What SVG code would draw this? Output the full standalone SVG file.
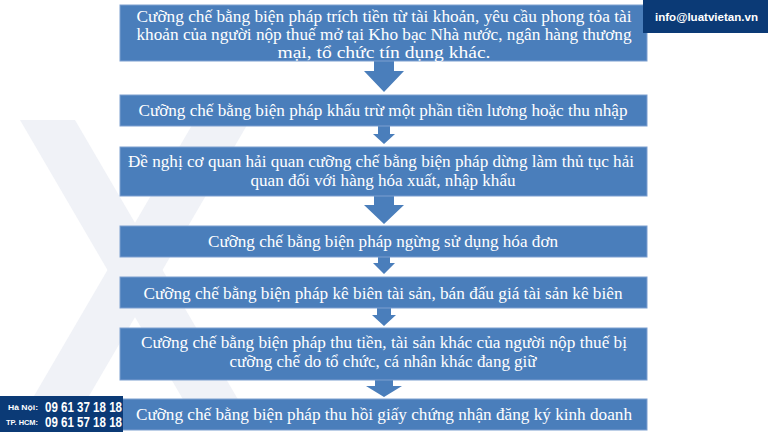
<svg xmlns="http://www.w3.org/2000/svg" width="768" height="432" viewBox="0 0 768 432">
<style>
.box{fill:#4a7ebb;stroke:#7c9fd0;stroke-width:1}
.arr{fill:#4a7ebb}
.t{font-family:"Liberation Serif","Times New Roman",serif;font-size:16px;fill:#ffffff;text-anchor:middle;dominant-baseline:central}
.wm{fill:#f0f2f7}
.dark{fill:#0b3a76}
.ph{font-family:"Liberation Sans",Arial,sans-serif;font-weight:bold;fill:#ffffff;dominant-baseline:central}
</style>
<rect width="768" height="432" fill="#ffffff"/>
<g id="watermark">
<polygon class="wm" points="20,120 75,120 250,420 195,420"/>
<polygon class="wm" points="195,120 250,120 75,420 20,420"/>
</g>
<g id="connectors">
<polygon class="arr" points="374,61 394,61 394,71 404,71 384,92 364,71 374,71"/>
<polygon class="arr" points="378,126 390,126 390,134 395,134 384,144 373,134 378,134"/>
<polygon class="arr" points="374,196 394,196 394,205 404,205 384,224 364,205 374,205"/>
<polygon class="arr" points="378,257 390,257 390,263 395,263 384,274 373,263 378,263"/>
<polygon class="arr" points="377,308 391,308 391,315 396,315 384,326 372,315 377,315"/>
<polygon class="arr" points="375,380 393,380 393,386 402,386 384,397 366,386 375,386"/>
</g>
<g id="n1">
<rect class="box" x="120" y="5" width="527" height="56"/>
<text class="t" x="384" y="16.5" textLength="495" lengthAdjust="spacingAndGlyphs">Cưỡng chế bằng biện pháp trích tiền từ tài khoản, yêu cầu phong tỏa tài</text>
<text class="t" x="384" y="34.5" textLength="495" lengthAdjust="spacingAndGlyphs">khoản của người nộp thuế mở tại Kho bạc Nhà nước, ngân hàng thương</text>
<text class="t" x="384" y="52.5" textLength="213" lengthAdjust="spacingAndGlyphs">mại, tổ chức tín dụng khác.</text>
</g>
<g id="n2">
<rect class="box" x="120" y="95" width="527" height="31"/>
<text class="t" x="383" y="110" textLength="489" lengthAdjust="spacingAndGlyphs">Cưỡng chế bằng biện pháp khấu trừ một phần tiền lương hoặc thu nhập</text>
</g>
<g id="n3">
<rect class="box" x="120" y="147" width="527" height="49"/>
<text class="t" x="381" y="161" textLength="506" lengthAdjust="spacingAndGlyphs">Đề nghị cơ quan hải quan cưỡng chế bằng biện pháp dừng làm thủ tục hải</text>
<text class="t" x="383" y="180" textLength="265" lengthAdjust="spacingAndGlyphs">quan đối với hàng hóa xuất, nhập khẩu</text>
</g>
<g id="n4">
<rect class="box" x="120" y="226" width="527" height="31"/>
<text class="t" x="383" y="241" textLength="350" lengthAdjust="spacingAndGlyphs">Cưỡng chế bằng biện pháp ngừng sử dụng hóa đơn</text>
</g>
<g id="n5">
<rect class="box" x="120" y="277" width="527" height="31"/>
<text class="t" x="383" y="293" textLength="479" lengthAdjust="spacingAndGlyphs">Cưỡng chế bằng biện pháp kê biên tài sản, bán đấu giá tài sản kê biên</text>
</g>
<g id="n6">
<rect class="box" x="120" y="328" width="527" height="52"/>
<text class="t" x="384" y="342" textLength="486" lengthAdjust="spacingAndGlyphs">Cưỡng chế bằng biện pháp thu tiền, tài sản khác của người nộp thuế bị</text>
<text class="t" x="383" y="361" textLength="307" lengthAdjust="spacingAndGlyphs">cưỡng chế do tổ chức, cá nhân khác đang giữ</text>
</g>
<g id="n7">
<rect class="box" x="120" y="399" width="527" height="31"/>
<text class="t" x="384" y="414" textLength="496" lengthAdjust="spacingAndGlyphs">Cưỡng chế bằng biện pháp thu hồi giấy chứng nhận đăng ký kinh doanh</text>
</g>
<g id="email">
<rect class="dark" x="643" y="0" width="125" height="33"/>
<text class="ph" x="655" y="17" font-size="11.5" textLength="103" lengthAdjust="spacingAndGlyphs">info@luatvietan.vn</text>
</g>
<g id="phone">
<rect class="dark" x="0" y="396" width="123" height="36"/>
<text class="ph" x="8" y="407" font-size="8" textLength="30" lengthAdjust="spacingAndGlyphs">Hà Nội:</text>
<text class="ph" x="45" y="407" font-size="14" textLength="77" lengthAdjust="spacingAndGlyphs">09 61 37 18 18</text>
<text class="ph" x="6" y="422" font-size="8" textLength="32" lengthAdjust="spacingAndGlyphs">TP. HCM:</text>
<text class="ph" x="45" y="422" font-size="14" textLength="77" lengthAdjust="spacingAndGlyphs">09 61 57 18 18</text>
</g>
</svg>
